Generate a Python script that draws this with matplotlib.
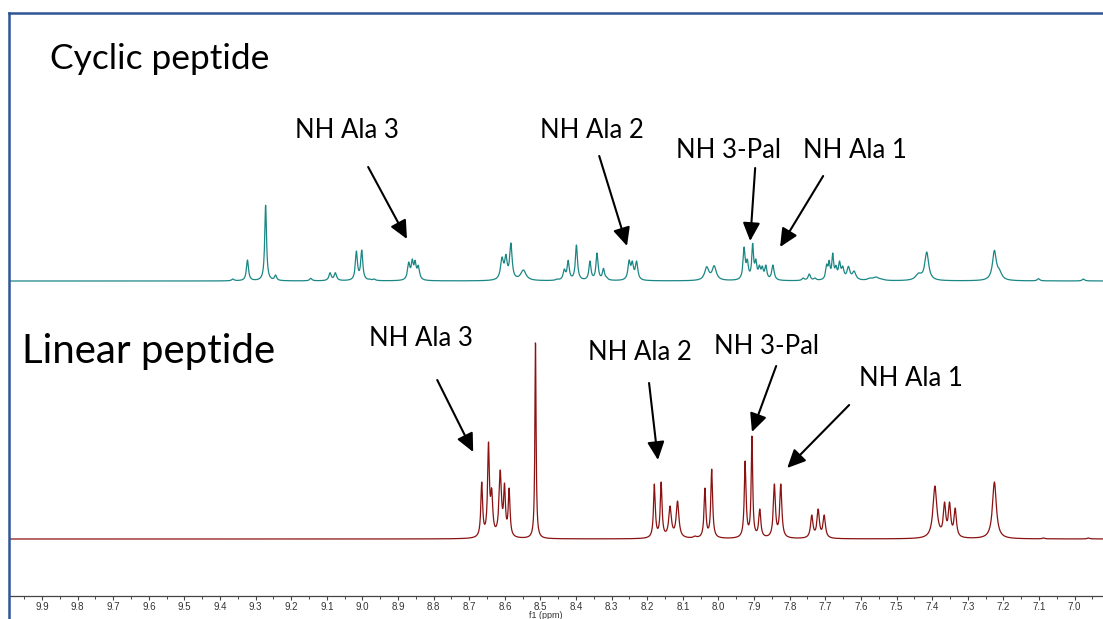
import numpy as np
import matplotlib
matplotlib.use('Agg')
from matplotlib import pyplot as plt
from matplotlib.lines import Line2D

# Pikovi ciklicnog peptida: polozaj (ppm), visina, sirina na pola visine (ppm)
cyc_ppm = [9.364, 9.323, 9.272, 9.244, 9.145, 9.091, 9.076, 9.017, 9.002, 8.979, 8.967,
           8.870, 8.860, 8.852, 8.843,
           8.608, 8.597, 8.583, 8.548,
           8.453, 8.433, 8.422, 8.399, 8.389, 8.361, 8.341, 8.323, 8.314,
           8.251, 8.242, 8.230,
           8.033, 8.012,
           7.928, 7.919, 7.904, 7.895, 7.885, 7.877, 7.867, 7.847,
           7.762, 7.745, 7.729,
           7.696, 7.689, 7.679, 7.670, 7.660, 7.651, 7.635, 7.619,
           7.574, 7.557, 7.541,
           7.438, 7.415,
           7.225, 7.211,
           7.101, 6.975]
cyc_height = [2, 21, 76, 6, 2.7, 8.3, 8.3, 30, 31, 2, 2,
              19, 22, 20.7, 15.7,
              24, 26.7, 38, 11,
              2, 12, 20.7, 36, 5, 20, 28, 12.7, 4,
              21, 20, 20,
              14.3, 15.3,
              34, 22, 37.7, 22, 16, 15, 16, 16,
              3, 7, 3,
              17, 20.7, 28, 15.7, 20, 15, 14.7, 10,
              3, 4, 2,
              8, 29,
              30.7, 12,
              2.3, 2]
cyc_width = [0.008, 0.007, 0.006, 0.007, 0.008, 0.008, 0.008, 0.007, 0.007, 0.008, 0.008,
             0.008, 0.007, 0.007, 0.008,
             0.010, 0.008, 0.008, 0.018,
             0.010, 0.008, 0.007, 0.007, 0.008, 0.007, 0.007, 0.007, 0.008,
             0.008, 0.008, 0.008,
             0.014, 0.014,
             0.007, 0.007, 0.006, 0.007, 0.007, 0.007, 0.007, 0.008,
             0.008, 0.008, 0.008,
             0.007, 0.006, 0.006, 0.007, 0.007, 0.008, 0.010, 0.012,
             0.018, 0.018, 0.018,
             0.020, 0.013,
             0.013, 0.016,
             0.008, 0.008]

# Pikovi linearnog peptida
lin_ppm = [8.665, 8.646, 8.637, 8.613, 8.601, 8.588,
           8.514,
           8.180, 8.161, 8.136, 8.115, 8.066, 8.038, 8.019,
           7.925, 7.906, 7.884, 7.843, 7.825,
           7.738, 7.720, 7.703,
           7.392, 7.365, 7.351, 7.335,
           7.225, 7.087, 6.961]
lin_height = [57, 97, 51, 69, 56, 51,
              197,
              55, 57, 33, 38, 3, 51, 70,
              78, 103, 30, 55, 55,
              24, 30, 24,
              53, 37, 37, 31,
              57, 1, 1]
lin_width = [0.006, 0.006, 0.007, 0.008, 0.006, 0.006,
             0.004,
             0.006, 0.006, 0.009, 0.009, 0.010, 0.006, 0.006,
             0.006, 0.005, 0.007, 0.007, 0.007,
             0.008, 0.008, 0.008,
             0.013, 0.008, 0.008, 0.008,
             0.013, 0.008, 0.008]

# Oznake NH signala
nh_labels = ["NH Ala 3", "NH Ala 2", "NH 3-Pal", "NH Ala 1"]

# raspored oznaka (ppm, y): tekst, pocetak strelice, vrh strelice
cyc_text_pos = [(9.043, 466), (8.355, 466), (7.973, 446), (7.616, 446)]
cyc_arrow_from = [(8.984, 429), (8.335, 440), (7.897, 428), (7.706, 420)]
cyc_arrow_to = [(8.875, 357), (8.257, 350), (7.911, 355), (7.827, 349)]
lin_text_pos = [(8.835, 258), (8.220, 244), (7.864, 249), (7.459, 218)]
lin_arrow_from = [(8.790, 216), (8.195, 213), (7.838, 230), (7.633, 191)]
lin_arrow_to = [(8.689, 144), (8.170, 136), (7.906, 164), (7.807, 128)]

cyc_offset = 315
lin_offset = 57


def lorentz(x, x0, w):
    return 1.0 / (1.0 + ((x - x0) / (w / 2.0)) ** 2)


def spectrum(x, centers, heights, widths):
    centers = np.array(centers)
    heights = np.array(heights, dtype=float)
    widths = np.array(widths)
    # amplitude tako da zbir Lorentz-ovih krivih ima zadatu visinu u centru
    A = lorentz(centers[:, None], centers[None, :], widths[None, :])
    amp = np.linalg.lstsq(A, heights, rcond=None)[0]
    amp = np.clip(amp, 0, None)
    return (lorentz(x[:, None], centers[None, :], widths[None, :]) * amp).sum(axis=1)


x = np.linspace(6.90, 10.0, 8000)
cyc_y = spectrum(x, cyc_ppm, cyc_height, cyc_width)
lin_y = spectrum(x, lin_ppm, lin_height, lin_width)

fig = plt.figure(figsize=(11.03, 6.19), dpi=100)
ax = fig.add_axes([10 / 1103, 23 / 619, 1 - 10 / 1103, 582 / 619])

ax.plot(x, cyc_y + cyc_offset, color='#1b8785', lw=0.9)
ax.plot(x, lin_y + lin_offset, color='#8b1212', lw=0.9)

ax.set_xlim(9.99, 6.92)
ax.set_ylim(0, 582)

for s in ['top', 'left', 'right']:
    ax.spines[s].set_visible(False)
ax.spines['bottom'].set_color('#444444')
ax.spines['bottom'].set_linewidth(0.9)
ax.set_yticks([])
ax.set_xticks(np.round(np.arange(7.0, 9.95, 0.1), 1))
ax.set_xticks(np.round(np.arange(6.95, 9.99, 0.1), 2), minor=True)
ax.xaxis.set_major_formatter(matplotlib.ticker.FormatStrFormatter('%.1f'))
ax.tick_params(axis='x', which='major', length=3, width=0.8, color='#444444',
               labelsize=7, labelcolor='#333333', pad=1.5)
ax.tick_params(axis='x', which='minor', length=2, width=0.7, color='#444444')
ax.text(0.49, -0.034, "f1 (ppm)", transform=ax.transAxes, ha='center', va='center',
        fontsize=6.5, color='#333333', family='Liberation Sans')
for lab in ax.get_xticklabels():
    lab.set_family('Liberation Sans')

ax.text(9.878, 537, "Cyclic peptide", ha='left', va='center', family='Lato',
        fontsize=25.5, color='black')
ax.text(9.956, 245, "Linear peptide", ha='left', va='center', family='Lato',
        fontsize=29, color='black')

arrow = dict(arrowstyle='-|>,head_length=0.85,head_width=0.4', mutation_scale=13,
             lw=1.5, color='black', shrinkA=0, shrinkB=0)
for pos, start, end, lab in zip(cyc_text_pos + lin_text_pos,
                                cyc_arrow_from + lin_arrow_from,
                                cyc_arrow_to + lin_arrow_to,
                                nh_labels + nh_labels):
    ax.text(pos[0], pos[1], lab, ha='center', va='center', family='Lato',
            fontsize=18.5, color='black')
    ax.annotate('', xy=end, xytext=start, arrowprops=arrow)

# plavi okvir slajda
frame = '#2f5597'
fig.add_artist(Line2D([9 / 1103, 9 / 1103], [0, 1 - 13 / 619], transform=fig.transFigure,
                      color=frame, lw=1.8))
fig.add_artist(Line2D([9 / 1103, 1], [1 - 13 / 619, 1 - 13 / 619], transform=fig.transFigure,
                      color=frame, lw=1.8))

plt.savefig('out.png', dpi=100)
